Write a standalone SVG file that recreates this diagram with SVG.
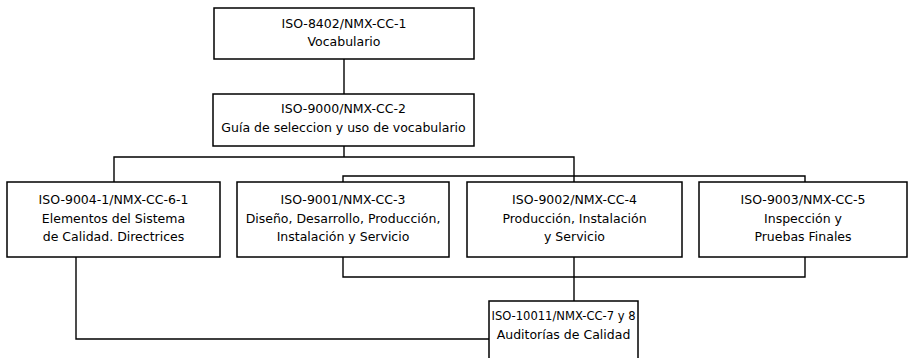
<svg xmlns="http://www.w3.org/2000/svg" width="909" height="358" viewBox="0 0 909 358">
<style>
.box{fill:#fff;stroke:#000;stroke-width:1.5}
.ln{fill:none;stroke:#000;stroke-width:1.4}
text{font-family:"DejaVu Sans","Liberation Sans",sans-serif;font-size:12.5px;fill:#000;text-anchor:middle}
</style>
<rect width="909" height="358" fill="#fff"/>
<g id="connectors">
<path class="ln" d="M344 59V94"/>
<path class="ln" d="M344 146V157"/>
<path class="ln" d="M114 182V157H574V182"/>
<path class="ln" d="M343 182V176H805V182"/>
<path class="ln" d="M343 257V277H805V257"/>
<path class="ln" d="M574 257V301"/>
<path class="ln" d="M76 257V339H489"/>
</g>
<g id="n1"><rect class="box" x="214" y="8" width="260" height="51"/>
<text x="344" y="27.5">ISO-8402/NMX-CC-1</text><text x="344" y="46">Vocabulario</text></g>
<g id="n2"><rect class="box" x="213" y="94" width="261" height="52"/>
<text x="343.5" y="113">ISO-9000/NMX-CC-2</text><text x="343.5" y="131.5">Guía de seleccion y uso de vocabulario</text></g>
<g id="n3"><rect class="box" x="7" y="182" width="213" height="75"/>
<text x="113.5" y="204">ISO-9004-1/NMX-CC-6-1</text><text x="113.5" y="222.5">Elementos del Sistema</text><text x="113.5" y="241">de Calidad. Directrices</text></g>
<g id="n4"><rect class="box" x="237" y="182" width="212" height="75"/>
<text x="343" y="204">ISO-9001/NMX-CC-3</text><text x="343" y="222.5">Diseño, Desarrollo, Producción,</text><text x="343" y="241">Instalación y Servicio</text></g>
<g id="n5"><rect class="box" x="467" y="182" width="215" height="75"/>
<text x="574.5" y="204">ISO-9002/NMX-CC-4</text><text x="574.5" y="222.5">Producción, Instalación</text><text x="574.5" y="241">y Servicio</text></g>
<g id="n6"><rect class="box" x="699" y="182" width="208" height="75"/>
<text x="803" y="204">ISO-9003/NMX-CC-5</text><text x="803" y="222.5">Inspección y</text><text x="803" y="241">Pruebas Finales</text></g>
<g id="n7"><rect class="box" x="489" y="301" width="149" height="70"/>
<text x="563.5" y="319.5" textLength="144" lengthAdjust="spacingAndGlyphs">ISO-10011/NMX-CC-7 y 8</text><text x="563.5" y="338.5">Auditorías de Calidad</text></g>
</svg>
